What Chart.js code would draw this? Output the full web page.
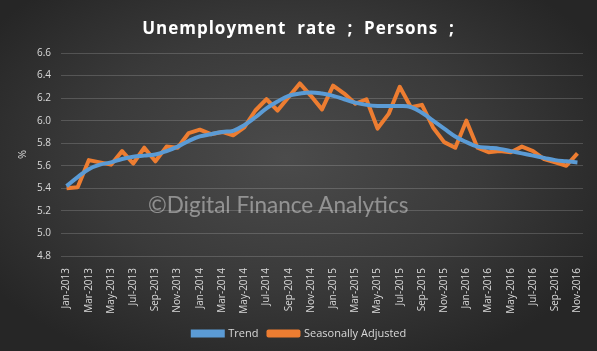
<!DOCTYPE html>
<html>
<head>
<meta charset="utf-8">
<script src="https://cdn.jsdelivr.net/npm/chart.js@4.4.1/dist/chart.umd.min.js"></script>
<style>
  html, body { margin: 0; padding: 0; }
  #wrap {
    position: relative;
    width: 597px;
    height: 351px;
    background: radial-gradient(ellipse 60% 65% at 48% 45%, #4b4b4b 0%, #3a3a3a 55%, #262626 100%);
    overflow: hidden;
  }
  #title {
    position: absolute;
    left: 0;
    width: 597px;
    top: 18px;
    line-height: 20px;
    text-align: center;
    font-family: "Open Sans", sans-serif;
    font-weight: bold;
    font-size: 17px;
    letter-spacing: 1px;
    color: #ffffff;
    white-space: pre;
  }
  #mark {
    position: absolute;
    left: 148px;
    top: 191px;
    font-family: Lato, "Open Sans", sans-serif;
    font-size: 22.5px;
    color: rgba(255, 255, 255, 0.42);
    white-space: nowrap;
  }
</style>
</head>
<body>
<div id="wrap">
  <canvas id="unemploymentChart" width="597" height="351"></canvas>
  <div id="title">Unemployment  rate  ;  Persons  ;</div>
  <div id="mark">©Digital Finance Analytics</div>
</div>
<script>
// Unemployment rate, persons, Jan-2013 .. Nov-2016

var months = ["Jan", "Feb", "Mar", "Apr", "May", "Jun", "Jul", "Aug", "Sep", "Oct", "Nov", "Dec"];
var years = [2013, 2014, 2015, 2016];

var labels = [];
years.forEach(function (y) {
  months.forEach(function (m) {
    labels.push(m + "-" + y);
  });
});
labels = labels.slice(0, 47); // stops at Nov-2016

var trend = [5.42, 5.50, 5.57, 5.61, 5.63, 5.66, 5.68, 5.69, 5.70, 5.73,
  5.77, 5.82, 5.86, 5.88, 5.90, 5.91, 5.96, 6.03, 6.11, 6.17,
  6.22, 6.24, 6.25, 6.24, 6.22, 6.19, 6.16, 6.14, 6.13, 6.13,
  6.13, 6.12, 6.07, 6.00, 5.93, 5.86, 5.81, 5.77, 5.76, 5.75,
  5.73, 5.71, 5.69, 5.67, 5.65, 5.64, 5.63];

var seasonal = [5.40, 5.41, 5.65, 5.63, 5.61, 5.73, 5.62, 5.76, 5.64, 5.77,
  5.76, 5.89, 5.92, 5.88, 5.90, 5.87, 5.94, 6.09, 6.19, 6.09,
  6.21, 6.33, 6.22, 6.10, 6.31, 6.24, 6.15, 6.19, 5.93, 6.06,
  6.30, 6.12, 6.14, 5.94, 5.81, 5.76, 6.00, 5.76, 5.72, 5.73,
  5.72, 5.77, 5.73, 5.66, 5.63, 5.60, 5.71];

var textColor = '#d9d9d9';
var fontName = "'Open Sans', sans-serif";

var ctx = document.getElementById("unemploymentChart");

var trendData = {
  label: "Trend",
  data: trend,
  borderColor: '#5b9bd5',
  backgroundColor: '#5b9bd5',
  borderWidth: 4,
  tension: 0.4,
  fill: false,
  pointRadius: 0
};

var seasonalData = {
  label: "Seasonally Adjusted",
  data: seasonal,
  borderColor: '#ed7d31',
  backgroundColor: '#ed7d31',
  borderWidth: 4,
  tension: 0,
  fill: false,
  pointRadius: 0,
  borderJoinStyle: 'round'
};

var chart = new Chart(ctx, {
  type: 'line',
  data: {
    labels: labels,
    datasets: [trendData, seasonalData]
  },
  options: {
    responsive: false,
    animation: false,
    layout: { padding: { top: 53, right: 14, bottom: 2, left: 16 } },
    plugins: {
      title: { display: false },
      legend: {
        display: true,
        position: 'bottom',
        labels: {
          color: textColor,
          font: { family: fontName, size: 11 },
          boxWidth: 30,
          boxHeight: 4,
          padding: 10
        }
      },
      tooltip: { enabled: false }
    },
    scales: {
      x: {
        offset: true,
        grid: { display: false },
        border: { display: false },
        ticks: {
          color: textColor,
          font: { family: fontName, size: 10 },
          autoSkip: false,
          minRotation: 90,
          maxRotation: 90,
          padding: 4,
          callback: function (value, index) {
            return index % 2 === 0 ? labels[index] : '';
          }
        },
        afterFit: function (scale) { scale.height = 62; }
      },
      y: {
        min: 4.8,
        max: 6.6,
        grid: { color: 'rgba(255,255,255,0.17)', drawTicks: false },
        border: { display: false },
        ticks: {
          stepSize: 0.2,
          color: textColor,
          font: { family: fontName, size: 10 },
          padding: 10,
          callback: function (v) { return v.toFixed(1); }
        },
        title: {
          display: true,
          text: '%',
          color: textColor,
          font: { family: fontName, size: 11 },
          padding: 0
        },
        afterFit: function (scale) { scale.width = 45; }
      }
    }
  }
});
</script>
</body>
</html>
